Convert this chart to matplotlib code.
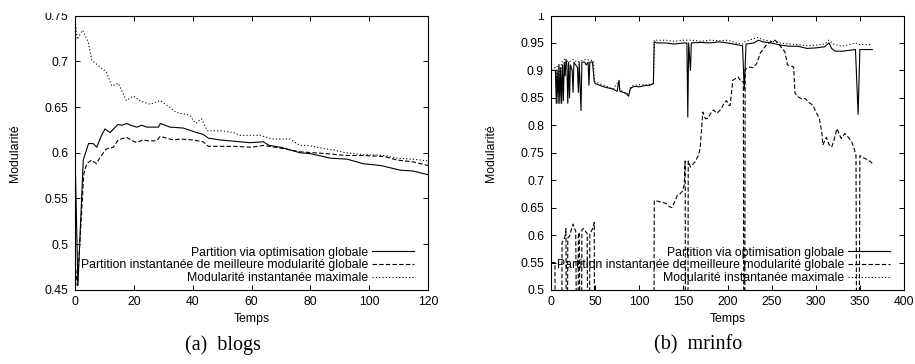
"""
Modularité au cours du temps : (a) blogs, (b) mrinfo (style gnuplot).

    python plot.py
"""
import matplotlib
matplotlib.use('Agg')
import matplotlib.pyplot as plt
from matplotlib.patches import Rectangle

# ---- données --------------------------------------------------------------
LABELS = ['Partition via optimisation globale',
          'Partition instantanée de meilleure modularité globale',
          'Modularité instantanée maximale']

# (a) blogs
blogs_t_glob = [0, 1, 2.8, 4.6, 6.2, 7.4, 9, 10.2, 11.9, 14.6, 15.9, 17.6, 19, 21,
                22.7, 24.4, 26, 28.3, 29, 32.3, 36.8, 41.4, 43.6, 45.3, 49.3, 56,
                59.5, 64, 66, 70, 76.5, 80, 87, 92.5, 98, 104, 110.5, 115, 120]
blogs_glob = [0.60, 0.455, 0.592, 0.610, 0.610, 0.606, 0.619, 0.626, 0.622, 0.631,
              0.630, 0.632, 0.630, 0.628, 0.630, 0.628, 0.628, 0.628, 0.632, 0.628,
              0.627, 0.622, 0.620, 0.616, 0.614, 0.612, 0.611, 0.612, 0.608, 0.606,
              0.600, 0.599, 0.594, 0.593, 0.588, 0.586, 0.581, 0.580, 0.576]

blogs_t_inst = [0, 0.8, 3, 4, 5.6, 7.3, 8.5, 10.6, 13, 14.7, 17.5, 19, 21, 23, 25,
                27.7, 29, 31, 33.4, 35.7, 40, 43.6, 45.3, 50, 53.8, 60, 64, 70,
                76.5, 85.6, 92, 98, 105, 109.5, 115, 120]
blogs_inst = [0.48, 0.455, 0.577, 0.588, 0.592, 0.588, 0.595, 0.604, 0.606, 0.614,
              0.617, 0.614, 0.611, 0.614, 0.613, 0.613, 0.618, 0.616, 0.614, 0.615,
              0.614, 0.612, 0.607, 0.607, 0.607, 0.606, 0.608, 0.605, 0.601, 0.599,
              0.597, 0.597, 0.596, 0.592, 0.590, 0.586]

blogs_t_max = [0, 0.7, 2.6, 4.5, 5.7, 8, 10.7, 12.5, 14.7, 17.5, 19.8, 22, 25.5, 29,
               32, 34.5, 39, 41, 43, 45, 50, 54, 56, 63, 67, 73, 76.5, 79, 85.6, 88,
               92, 98, 105, 109.5, 115, 120]
blogs_max = [0.748, 0.724, 0.734, 0.721, 0.701, 0.695, 0.688, 0.673, 0.676, 0.657,
             0.662, 0.657, 0.653, 0.657, 0.650, 0.644, 0.641, 0.632, 0.637, 0.624,
             0.624, 0.622, 0.619, 0.619, 0.615, 0.615, 0.608, 0.608, 0.604, 0.603,
             0.600, 0.598, 0.597, 0.594, 0.593, 0.591]

# (b) mrinfo
mr_t_glob = [0, 5, 6, 7, 8, 9, 10, 11, 12, 13, 14, 15, 16, 17, 18, 19, 20, 21, 22,
             24, 25, 26, 28, 30, 31, 32, 34, 35, 38, 40, 42, 43, 44, 47, 49, 50,
             55, 60, 65, 70, 75, 77, 78, 82, 85, 88, 90, 95, 100, 105, 112, 116,
             117, 120, 130, 140, 150, 154, 155, 156, 158, 159, 170, 180, 190, 200,
             210, 217, 219, 221, 230, 235, 240, 250, 260, 270, 280, 290, 300, 310,
             315, 318, 322, 330, 340, 345, 348, 350, 355, 364]
mr_glob = [0.90, 0.90, 0.84, 0.90, 0.84, 0.91, 0.84, 0.905, 0.84, 0.91, 0.845,
           0.915, 0.89, 0.92, 0.91, 0.84, 0.915, 0.85, 0.91, 0.90, 0.86, 0.915,
           0.91, 0.905, 0.86, 0.915, 0.827, 0.915, 0.915, 0.91, 0.915, 0.873,
           0.915, 0.915, 0.88, 0.876, 0.873, 0.870, 0.868, 0.866, 0.862, 0.882,
           0.862, 0.860, 0.858, 0.853, 0.868, 0.871, 0.870, 0.872, 0.873, 0.876,
           0.952, 0.950, 0.950, 0.948, 0.950, 0.950, 0.815, 0.950, 0.900, 0.950,
           0.951, 0.950, 0.952, 0.950, 0.947, 0.945, 0.865, 0.948, 0.950, 0.955,
           0.952, 0.950, 0.946, 0.944, 0.944, 0.940, 0.941, 0.943, 0.950, 0.940,
           0.935, 0.935, 0.937, 0.938, 0.820, 0.938, 0.938, 0.938]

mr_t_inst = [0, 4.5, 5, 12, 12.5, 14, 15.5, 17, 17.5, 18.5, 19, 21, 23, 25, 26.5,
             28, 29.5, 30.5, 31, 32, 33.5, 34.5, 35, 37, 39, 41, 42, 43.5, 44, 46,
             48, 49, 49.5, 116.5, 117, 120, 125, 130, 134, 137, 140, 143, 146, 149,
             151, 152, 152.5, 155, 155.5, 158, 163, 167, 169, 172, 175, 178, 181,
             184, 188, 193, 196, 199, 201, 203, 206, 209, 212, 216, 218, 218.5,
             219.5, 220, 225, 229, 233, 237, 241, 244, 249, 254, 258, 262, 265,
             268, 272, 275, 276.5, 280, 284, 288, 292, 297, 300, 304, 307, 308,
             312, 315, 318, 321, 324, 327, 329, 333, 337, 341, 344, 345.6, 346.5,
             349, 350, 353.6, 358, 361, 364]
mr_inst = [0.55, 0.55, 0.30, 0.30, 0.587, 0.590, 0.595, 0.612, 0.30, 0.30, 0.595,
           0.598, 0.610, 0.620, 0.612, 0.608, 0.30, 0.30, 0.600, 0.605, 0.30, 0.30,
           0.610, 0.612, 0.607, 0.603, 0.30, 0.30, 0.603, 0.608, 0.615, 0.623,
           0.30, 0.30, 0.663, 0.662, 0.660, 0.658, 0.652, 0.650, 0.660, 0.672,
           0.675, 0.680, 0.692, 0.735, 0.30, 0.30, 0.735, 0.724, 0.733, 0.745,
           0.758, 0.824, 0.812, 0.813, 0.822, 0.828, 0.822, 0.830, 0.840, 0.845,
           0.837, 0.836, 0.882, 0.885, 0.888, 0.879, 0.880, 0.30, 0.30, 0.902,
           0.906, 0.905, 0.912, 0.931, 0.940, 0.946, 0.952, 0.955, 0.948, 0.940,
           0.934, 0.910, 0.908, 0.906, 0.858, 0.852, 0.848, 0.849, 0.842, 0.836,
           0.825, 0.813, 0.785, 0.764, 0.778, 0.765, 0.760, 0.775, 0.794, 0.782,
           0.776, 0.785, 0.778, 0.769, 0.755, 0.745, 0.30, 0.30, 0.745, 0.741,
           0.738, 0.735, 0.731]

mr_t_max = [0, 5, 6, 7, 9, 10, 12, 15, 20, 25, 30, 35, 40, 45, 48, 49, 55, 60, 70,
            77, 78, 85, 88, 92, 100, 110, 116, 117, 130, 140, 150, 160, 170, 180,
            190, 200, 210, 217, 219, 230, 235, 240, 250, 260, 270, 280, 290, 300,
            310, 315, 320, 330, 340, 345, 350, 364]
mr_max = [0.905, 0.905, 0.87, 0.91, 0.91, 0.88, 0.915, 0.92, 0.915, 0.92, 0.915,
          0.918, 0.92, 0.918, 0.918, 0.88, 0.876, 0.873, 0.866, 0.880, 0.865,
          0.858, 0.858, 0.872, 0.874, 0.874, 0.876, 0.955, 0.955, 0.953, 0.955,
          0.955, 0.953, 0.955, 0.954, 0.955, 0.950, 0.948, 0.952, 0.958, 0.960,
          0.956, 0.953, 0.950, 0.948, 0.947, 0.945, 0.946, 0.948, 0.955, 0.948,
          0.944, 0.948, 0.950, 0.947, 0.947]

blogs_xticks = [0, 20, 40, 60, 80, 100, 120]
blogs_yticks = [0.45, 0.5, 0.55, 0.6, 0.65, 0.7, 0.75]
blogs_yticklabels = ['0.45', '0.5', '0.55', '0.6', '0.65', '0.7', '0.75']
mr_xticks = [0, 50, 100, 150, 200, 250, 300, 350, 400]
mr_yticks = [0.5, 0.55, 0.6, 0.65, 0.7, 0.75, 0.8, 0.85, 0.9, 0.95, 1.0]
mr_yticklabels = ['0.5', '0.55', '0.6', '0.65', '0.7', '0.75', '0.8', '0.85',
                  '0.9', '0.95', '1']

# ---- style ----------------------------------------------------------------
STYLES = ['-', (0, (4, 2)), (0, (1, 2))]
plt.rcParams.update({'font.family': ['Liberation Sans', 'DejaVu Sans'],
                     'font.size': 8.8, 'axes.linewidth': 0.8,
                     'xtick.direction': 'in', 'ytick.direction': 'in',
                     'xtick.top': True, 'ytick.right': True,
                     'xtick.major.size': 3.6, 'ytick.major.size': 3.6,
                     'xtick.major.width': 0.7, 'ytick.major.width': 0.7,
                     'xtick.major.pad': 4.5, 'ytick.major.pad': 5})

W, H = 915, 364
fig = plt.figure(figsize=(W / 100, H / 100), dpi=100)


def panel(rect, series, xlim, ylim, xticks, yticks, yticklabels, caption, cap_x):
    x0, y0, x1, y1 = rect
    ax = fig.add_axes([x0 / W, 1 - y1 / H, (x1 - x0) / W, (y1 - y0) / H])
    for (t, v), ls, lab in zip(series, STYLES, LABELS):
        ax.plot(t, v, color='black', linestyle=ls, linewidth=0.8, label=lab)
    ax.set_xlim(*xlim)
    ax.set_ylim(*ylim)
    ax.set_xticks(xticks)
    ax.set_xticklabels([str(x) for x in xticks])
    ax.set_yticks(yticks)
    ax.set_yticklabels(yticklabels)
    ax.set_xlabel('Temps')
    ax.set_ylabel('Modularité')
    ax.xaxis.set_label_coords(0.5, -0.085)
    ax.yaxis.set_label_coords(-0.152, 0.5)
    ax.legend(loc='lower right', bbox_to_anchor=(0.96, 0.022), frameon=False,
              markerfirst=False, alignment='right', handlelength=3.4,
              handletextpad=0.35, labelspacing=0.05, borderpad=0, borderaxespad=0)
    fig.text(cap_x / W, 1 - 345 / H, caption, ha='center', va='center',
             family=['Liberation Serif', 'DejaVu Serif'], fontsize=14.5)
    return ax


panel((75, 15.5, 428, 290),
      [(blogs_t_glob, blogs_glob), (blogs_t_inst, blogs_inst), (blogs_t_max, blogs_max)],
      (0, 120), (0.45, 0.75), blogs_xticks, blogs_yticks, blogs_yticklabels,
      '(a)  blogs', 223)
panel((551, 15.5, 904, 290),
      [(mr_t_glob, mr_glob), (mr_t_inst, mr_inst), (mr_t_max, mr_max)],
      (0, 400), (0.5, 1.0), mr_xticks, mr_yticks, mr_yticklabels,
      '(b)  mrinfo', 698)

# haut de page rogné comme dans l'original
fig.patches.append(Rectangle((0, 1 - 13 / H), 1, 13 / H, transform=fig.transFigure,
                             facecolor='white', edgecolor='none', zorder=10))

fig.savefig('out.png', dpi=100)
